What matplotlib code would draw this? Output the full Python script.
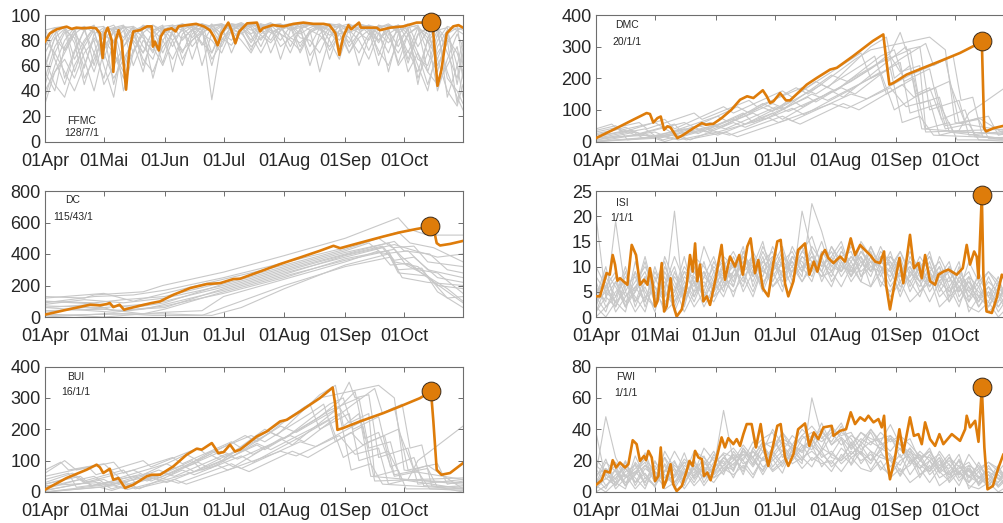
import matplotlib
matplotlib.use("Agg")
import matplotlib.pyplot as plt

plt.rcParams['font.family'] = ['Liberation Sans', 'DejaVu Sans']

# ---------------- axis ticks ----------------
MONTH_DAYS = [0, 30, 61, 91, 122, 153, 183]
MONTH_LABELS = ['01Apr', '01Mai', '01Jun', '01Jul', '01Aug', '01Sep', '01Oct']

# 5-day grid used by the noisy grey ensembles (days after 01Apr)
GRID5 = [0, 5, 10, 15, 20, 25, 30, 35, 40, 45, 50, 55, 60, 65, 70, 75, 80, 85, 90, 95,
         100, 105, 110, 115, 120, 125, 130, 135, 140, 145, 150, 155, 160, 165, 170, 175,
         180, 185, 190, 195, 200, 205, 210, 213]

# ---------------- FFMC ----------------
FFMC_DAYS = [0, 2.5, 6, 11, 13.6, 16, 19.5, 23, 26, 28, 29.4, 30.6, 32, 34, 34.8, 36, 37.5, 39, 41.3,
             43, 45, 48.4, 52, 54.4, 55, 56, 58, 59, 61, 64.5, 66.6, 68, 72, 77, 81, 84, 86, 88, 90,
             93.4, 95, 97, 99, 103, 108, 109.6, 111, 116, 121.5, 126.6, 131.7, 136.8, 142, 145, 148,
             150, 152, 154.6, 156, 160, 161, 169, 170.7, 176, 182.6, 189.4, 196.6, 197.6, 200, 202,
             204.7, 208, 210.7, 213]
FFMC_VALS = [79, 85.5, 88.7, 90.8, 89, 90, 89.5, 90, 89.5, 85.5, 66, 85.5, 90, 80, 55, 80, 88, 80, 41,
             72, 87, 88, 91, 91, 75, 79, 72, 83, 88, 89.5, 87, 91, 92, 93, 91, 88, 83, 76, 85.5,
             94, 88, 77.6, 87, 93.4, 94, 87, 89.5, 92, 91, 93, 94, 93, 93, 92, 85.5,
             68.4, 83, 92, 88.7, 94, 90, 90, 88, 90, 91, 94, 94, 91, 44, 56.6,
             85.5, 91, 92, 90]
FFMC_EVENT = (196.6, 94.5)
FFMC_GREY = [
    [88, 90, 72, 85, 91, 60, 88, 90, 92, 78, 55, 86, 91, 92, 80, 89, 93, 70, 90, 92, 93, 85, 91, 94, 88, 92, 93, 75, 90, 93, 92, 86, 90, 92, 68, 89, 92, 85, 90, 55, 80, 91, 88, 90],
    [60, 82, 89, 55, 78, 90, 86, 45, 75, 88, 91, 84, 62, 87, 92, 90, 76, 91, 93, 88, 92, 80, 93, 91, 65, 88, 93, 92, 90, 84, 91, 93, 89, 72, 90, 92, 86, 62, 84, 90, 60, 78, 88, 85],
    [45, 70, 86, 90, 65, 40, 72, 88, 90, 70, 86, 92, 88, 75, 90, 92, 85, 93, 80, 91, 94, 90, 75, 92, 93, 89, 91, 60, 85, 92, 90, 78, 92, 88, 90, 55, 85, 92, 90, 82, 40, 65, 85, 75],
    [75, 88, 50, 72, 88, 91, 80, 90, 60, 85, 92, 89, 70, 88, 93, 91, 88, 60, 89, 92, 90, 93, 88, 80, 92, 93, 85, 90, 93, 65, 88, 91, 93, 85, 91, 88, 75, 90, 50, 70, 88, 90, 45, 70],
    [35, 60, 80, 90, 88, 70, 50, 80, 91, 89, 75, 65, 88, 92, 90, 82, 91, 88, 92, 70, 88, 93, 90, 92, 85, 70, 89, 93, 91, 88, 80, 91, 92, 88, 60, 85, 90, 93, 75, 88, 92, 35, 60, 80],
    [82, 90, 91, 78, 45, 70, 89, 92, 82, 91, 86, 50, 80, 91, 93, 88, 90, 92, 85, 93, 91, 78, 90, 93, 91, 92, 75, 88, 92, 93, 90, 70, 86, 92, 90, 93, 88, 70, 90, 85, 65, 88, 92, 60],
    [55, 40, 75, 88, 91, 86, 65, 89, 91, 85, 70, 88, 92, 55, 85, 91, 93, 90, 75, 92, 88, 93, 91, 86, 90, 92, 93, 88, 55, 82, 92, 90, 86, 91, 80, 92, 90, 65, 85, 90, 88, 50, 40, 30],
    [70, 85, 91, 65, 80, 90, 91, 70, 55, 82, 91, 88, 90, 85, 70, 88, 93, 91, 92, 88, 93, 90, 80, 92, 93, 88, 90, 92, 91, 80, 65, 90, 93, 91, 88, 90, 62, 85, 91, 70, 55, 85, 90, 88],
    [90, 65, 45, 70, 88, 92, 75, 86, 90, 91, 60, 82, 90, 88, 91, 65, 88, 92, 93, 90, 85, 91, 93, 70, 88, 92, 91, 93, 88, 92, 85, 88, 93, 90, 78, 91, 88, 90, 92, 78, 90, 70, 50, 75],
    [50, 75, 88, 82, 58, 85, 90, 88, 40, 70, 89, 92, 85, 91, 88, 92, 60, 86, 91, 93, 92, 88, 91, 93, 92, 75, 89, 92, 90, 91, 93, 88, 60, 82, 92, 90, 92, 80, 60, 40, 75, 88, 60, 35],
    [30, 55, 70, 85, 75, 88, 60, 35, 80, 90, 82, 70, 90, 80, 60, 85, 91, 33, 80, 91, 88, 72, 92, 88, 80, 91, 70, 86, 92, 88, 75, 92, 88, 91, 85, 70, 92, 88, 45, 82, 90, 80, 30, 55],
    [40, 55, 65, 50, 70, 80, 45, 60, 75, 85, 65, 55, 75, 85, 72, 80, 88, 65, 78, 88, 80, 70, 85, 90, 75, 82, 88, 68, 80, 90, 85, 70, 82, 88, 72, 60, 80, 88, 70, 55, 45, 60, 75, 50],
    [65, 45, 35, 60, 75, 55, 80, 70, 50, 72, 85, 75, 60, 80, 88, 75, 85, 80, 70, 88, 86, 75, 82, 88, 85, 80, 72, 88, 84, 75, 88, 82, 70, 85, 80, 88, 60, 72, 55, 80, 65, 40, 28, 45],
    [80, 70, 55, 40, 60, 82, 70, 50, 65, 80, 70, 88, 80, 65, 82, 88, 78, 70, 86, 80, 90, 84, 70, 85, 90, 82, 78, 86, 90, 72, 85, 88, 80, 65, 86, 78, 88, 55, 70, 45, 70, 82, 70, 55],
    [58, 82, 72, 88, 50, 65, 85, 78, 88, 60, 80, 72, 85, 90, 65, 80, 86, 90, 82, 76, 88, 92, 84, 78, 88, 92, 82, 80, 70, 88, 92, 75, 86, 80, 92, 82, 70, 85, 65, 60, 85, 55, 35, 25],
]

# ---------------- DMC ----------------
DMC_DAYS = [0, 12.2, 19, 25.8, 27.5, 29.2, 31.3, 33, 34.7, 36.4, 38, 41.5, 44.5, 49.6, 53.9, 56, 59.8, 64,
            69, 73.4, 77, 80.2, 85, 87, 88.7, 90.4, 93.8, 96.8, 98.9, 107.4, 112.5, 119.3, 122.7, 131,
            141, 146.4, 148, 149.5, 151.5, 158.3, 166.8, 175.3, 185.5, 192.3, 196.6, 197.8, 198.8,
            202.5, 208, 213]
DMC_VALS = [10.6, 47.6, 69, 90, 87, 60, 74, 79, 37, 48, 44, 10.6, 21, 42, 58, 53, 56, 74,
            100.5, 132, 143, 137.5, 162, 143, 122, 127, 153, 130, 130, 180, 201, 227.5, 233, 270,
            317.5, 338.6, 254, 180, 185, 211.6, 233, 254, 280, 301.5, 317.5, 42, 32,
            42, 50, 55]
DMC_EVENT = (196.6, 318)
DMC_GREY_DAYS = [
    [0, 20, 28, 50, 56, 80, 86, 110, 118, 140, 150, 156, 165, 172, 213],
    [0, 15, 22, 40, 45, 70, 76, 100, 105, 130, 145, 160, 165, 175, 180, 213],
    [0, 30, 35, 55, 62, 90, 95, 120, 126, 150, 158, 163, 170, 178, 190, 195, 213],
    [0, 10, 14, 35, 40, 65, 70, 95, 100, 125, 135, 140, 155, 160, 175, 182, 213],
    [0, 25, 32, 60, 66, 92, 98, 125, 132, 155, 168, 172, 178, 185, 200, 205, 213],
    [0, 18, 24, 45, 52, 75, 80, 108, 112, 140, 150, 155, 158, 165, 170, 185, 190, 213],
    [0, 12, 16, 40, 48, 70, 76, 100, 106, 130, 145, 152, 165, 173, 178, 195, 200, 213],
    [0, 30, 36, 58, 64, 85, 92, 115, 122, 145, 152, 157, 170, 176, 188, 193, 213],
    [0, 22, 26, 50, 54, 78, 82, 105, 112, 135, 142, 148, 162, 168, 213],
    [0, 35, 42, 62, 68, 95, 100, 130, 138, 160, 175, 182, 186, 192, 197, 213],
    [0, 28, 34, 56, 62, 88, 93, 120, 128, 150, 158, 170, 175, 185, 190, 213],
    [0, 8, 12, 30, 38, 62, 68, 90, 96, 120, 128, 150, 155, 165, 168, 180, 184, 213],
    [0, 25, 30, 52, 58, 84, 90, 112, 118, 140, 148, 152, 160, 166, 213],
    [0, 15, 20, 45, 50, 72, 78, 102, 108, 132, 140, 170, 178, 183, 213],
    [0, 40, 46, 66, 72, 98, 104, 126, 134, 156, 162, 180, 188, 195, 213],
]
DMC_GREY_VALS = [
    [5, 30, 15, 45, 30, 90, 70, 150, 130, 200, 230, 60, 80, 20, 10],
    [20, 45, 25, 55, 20, 70, 55, 130, 110, 190, 250, 290, 120, 140, 30, 5],
    [0, 10, 0, 35, 20, 90, 70, 160, 140, 260, 300, 150, 170, 40, 55, 5, 0],
    [35, 50, 30, 70, 40, 110, 90, 160, 140, 240, 280, 200, 250, 90, 120, 30, 25],
    [10, 40, 10, 50, 40, 110, 95, 170, 150, 260, 310, 240, 260, 60, 80, 20, 30],
    [15, 35, 10, 40, 25, 90, 60, 140, 125, 230, 280, 345, 290, 300, 100, 130, 20, 35],
    [25, 40, 5, 25, 5, 60, 45, 105, 85, 165, 220, 100, 150, 170, 50, 70, 10, 15],
    [5, 30, 15, 60, 45, 120, 100, 180, 160, 270, 290, 190, 230, 70, 100, 15, 10],
    [30, 60, 40, 90, 70, 130, 110, 170, 150, 240, 270, 150, 200, 30, 40],
    [0, 15, 5, 30, 20, 80, 65, 150, 135, 210, 250, 270, 130, 140, 15, 0],
    [12, 20, 5, 40, 30, 75, 60, 120, 105, 170, 110, 130, 20, 35, 90, 190],
    [40, 55, 35, 60, 30, 80, 60, 120, 105, 210, 190, 270, 220, 240, 40, 60, 5, 5],
    [0, 25, 10, 50, 40, 110, 95, 190, 170, 300, 330, 200, 240, 40, 20],
    [15, 35, 20, 60, 45, 110, 90, 170, 150, 260, 290, 330, 290, 60, 30],
    [0, 20, 5, 30, 15, 70, 55, 120, 100, 180, 140, 190, 60, 75, 5],
]

# ---------------- DC ----------------
DC_DAYS = [0, 11, 23, 28, 31.4, 33, 34.8, 38, 40.3, 41.6, 48.4, 54.4, 58.6, 65.4, 74, 82.4, 89.2, 96,
           99.4, 109.6, 119.8, 130, 140, 147, 150.4, 155.4, 164, 172.4, 181, 189.4, 196.2, 198,
           199.6, 201.3, 206.4, 213]
DC_VALS = [15, 46, 78, 74, 82, 89, 63, 78, 46, 51, 72, 89, 99, 141, 184, 209, 215, 241,
           243, 289, 336, 378, 420, 452, 437, 454, 483, 511, 538, 559, 574, 564,
           469, 454, 464, 483]
DC_EVENT = (196.3, 577)
DC_GREY_DAYS = [
    [0, 20, 25, 50, 60, 91, 122, 153, 180, 185, 195, 213],
    [0, 30, 45, 61, 91, 122, 153, 175, 182, 190, 200, 213],
    [0, 25, 35, 61, 91, 122, 153, 172, 178, 190, 200, 213],
    [0, 30, 61, 80, 91, 122, 153, 170, 176, 185, 195, 213],
    [0, 20, 40, 61, 91, 122, 153, 178, 183, 196, 205, 213],
    [0, 30, 45, 61, 91, 122, 153, 170, 177, 188, 195, 213],
    [0, 30, 50, 61, 91, 122, 153, 175, 180, 192, 200, 213],
    [0, 40, 55, 80, 91, 122, 153, 176, 182, 195, 213],
    [0, 25, 40, 61, 91, 122, 153, 165, 172, 185, 195, 213],
    [0, 35, 50, 61, 91, 122, 153, 178, 186, 200, 213],
    [0, 30, 61, 85, 100, 122, 153, 175, 180, 195, 205, 213],
    [0, 25, 45, 61, 91, 122, 153, 180, 186, 198, 213],
    [0, 30, 50, 61, 91, 122, 153, 172, 178, 188, 200, 213],
    [0, 20, 40, 61, 91, 122, 153, 178, 184, 192, 205, 213],
]
DC_GREY_VALS = [
    [130, 120, 140, 160, 200, 285, 390, 500, 630, 560, 520, 520],
    [100, 80, 60, 90, 210, 310, 410, 470, 380, 300, 280, 150],
    [60, 80, 40, 60, 180, 280, 380, 440, 350, 320, 200, 180],
    [20, 0, 30, 40, 130, 240, 350, 420, 330, 340, 250, 90],
    [80, 110, 90, 120, 200, 300, 400, 480, 420, 400, 300, 280],
    [120, 150, 100, 150, 240, 330, 430, 500, 440, 450, 350, 320],
    [40, 50, 20, 50, 160, 260, 360, 420, 300, 310, 160, 60],
    [10, 20, 10, 10, 60, 200, 320, 380, 250, 220, 200],
    [100, 90, 110, 130, 220, 320, 420, 470, 400, 420, 300, 250],
    [60, 30, 50, 80, 170, 270, 390, 460, 430, 380, 400],
    [0, 20, 20, 10, 60, 180, 330, 400, 280, 260, 120, 130],
    [90, 130, 140, 170, 250, 345, 440, 540, 470, 440, 350],
    [70, 60, 80, 100, 190, 290, 395, 450, 360, 380, 250, 220],
    [30, 60, 40, 70, 150, 250, 370, 430, 330, 280, 180, 100],
]

# ---------------- ISI ----------------
ISI_DAYS = [0, 2, 3.7, 5.4, 7, 8.5, 9.7, 10.9, 12.2, 13.9, 16, 18.2, 20.4, 22.4, 24.5, 26.2, 27.5, 28.9,
            30.1, 31.3, 33.5, 34.7, 36, 38, 39.4, 41.1, 43.7, 46.2, 47.9, 49.3, 50.5, 51.6, 53, 54.7,
            56.4, 58.1, 60.7, 64, 65.7, 68.3, 70.8, 73, 74.8, 77.1, 78.8, 81, 82.7, 85, 87.8, 90.5,
            92.4, 94.1, 96.3, 98, 100.6, 103, 106.5, 108.7, 111, 112.8, 115, 116.7, 118.4, 121,
            124.4, 126.9, 129.8, 132, 134.6, 137, 139.7, 142.2, 144.7, 146.8, 147.8, 149.8, 152.4,
            154.6, 156.6, 160, 162, 164.3, 166, 167.7, 170.2, 172.8, 174.5, 177, 179.6, 183.8,
            186.9, 188.9, 190.6, 192.7, 194, 194.9, 196.6, 197.4, 199, 201.7, 204.2, 206.8, 208, 213]
ISI_VALS = [4.1, 4.1, 6.4, 8.7, 8.4, 12.3, 10.4, 7.2, 7.7, 7.1, 6.4, 14.3, 12.3, 6.4, 7.4, 6.4, 9.7, 6.4,
            2.1, 3.1, 10.7, 1.1, 2.1, 7.7, 2.4, 0.1, 1.5, 6.4, 12.3, 9, 14.6, 7.1, 10.4, 3.1,
            4.1, 2.4, 7.1, 14.3, 7.4, 12, 10, 12.3, 8.4, 14, 15.6, 8.7, 11.3, 5.7, 4.1, 11,
            15, 15.3, 6.7, 4.1, 7.1, 13.3, 14.6, 8.4, 11, 9, 12.3, 13.3, 11.7, 10.7,
            12, 11, 15.6, 12.3, 14.3, 13.3, 12.3, 11, 10.7, 13, 6.4, 1.5, 7.1,
            11.7, 6.7, 16.3, 9.7, 10.7, 7.7, 12.3, 7.1, 6.4, 8.4, 9, 9.4, 8.4,
            9.7, 14.3, 10.4, 13, 12, 7.7, 24.3, 8.4, 1.1, 0.8, 3.8, 8.4, 7.7, 6]
ISI_EVENT = (196.6, 24.3)
ISI_GREY = [
    [2, 8, 4, 10, 3, 6, 1, 9, 5, 12, 4, 8, 6, 11, 7, 13, 9, 6, 12, 8, 14, 10, 7, 13, 11, 9, 15, 8, 12, 6, 10, 4, 9, 7, 11, 5, 8, 3, 6, 2, 5, 1, 4, 3],
    [6, 3, 19, 5, 9, 2, 7, 11, 3, 8, 6, 14, 9, 5, 12, 8, 10, 15, 7, 11, 9, 13, 16, 10, 12, 8, 11, 14, 9, 12, 7, 11, 5, 9, 13, 6, 3, 8, 4, 7, 2, 6, 3, 1],
    [1, 4, 2, 6, 8, 3, 10, 4, 21, 2, 9, 5, 11, 7, 9, 14, 6, 11, 9, 13, 7, 12, 10, 15, 9, 13, 11, 7, 14, 10, 8, 12, 6, 10, 5, 8, 11, 4, 7, 5, 3, 7, 2, 5],
    [4, 1, 7, 3, 5, 12, 4, 8, 1, 6, 10, 3, 8, 12, 10, 6, 13, 9, 11, 7, 12, 9, 14, 11, 8, 13, 10, 12, 6, 11, 9, 5, 12, 8, 6, 9, 4, 10, 5, 3, 8, 4, 6, 2],
    [8, 5, 3, 9, 2, 7, 5, 2, 9, 4, 7, 9, 5, 10, 13, 9, 11, 8, 14, 10, 6, 21, 13, 9, 14, 11, 7, 10, 13, 8, 12, 10, 7, 4, 9, 11, 6, 2, 8, 6, 1, 3, 8, 5],
    [3, 9, 6, 2, 11, 4, 2, 6, 12, 7, 3, 8, 12, 6, 8, 11, 7, 12, 6, 9, 11, 8, 22.5, 17, 10, 9, 12, 9, 11, 7, 5, 9, 11, 7, 3, 7, 9, 6, 3, 9, 4, 8, 2, 4],
    [0, 2, 5, 7, 4, 1, 8, 3, 5, 10, 7, 2, 6, 9, 4, 10, 12, 7, 9, 12, 10, 14, 9, 12, 7, 10, 14, 11, 8, 13, 11, 6, 8, 12, 9, 4, 6, 9, 1, 4, 6, 2, 5, 7],
    [5, 7, 1, 4, 6, 9, 3, 12, 7, 3, 8, 6, 10, 8, 11, 5, 9, 11, 13, 6, 9, 13, 11, 8, 12, 15, 9, 13, 10, 9, 13, 7, 10, 5, 7, 10, 5, 7, 9, 4, 7, 5, 1, 3],
    [2, 0, 3, 5, 1, 4, 6, 1, 3, 6, 2, 5, 3, 7, 5, 8, 4, 10, 6, 8, 11, 7, 10, 8, 9, 6, 10, 7, 6, 9, 4, 7, 3, 5, 8, 2, 4, 6, 2, 1, 3, 0, 2, 1],
    [10, 6, 9, 4, 7, 10, 6, 4, 8, 5, 12, 10, 7, 4, 9, 12, 10, 5, 10, 14, 8, 10, 12, 9, 6, 11, 8, 15, 12, 10, 9, 13, 8, 11, 6, 12, 8, 5, 11, 7, 9, 6, 10, 4],
    [20, 4, 7, 2, 5, 8, 3, 7, 4, 9, 5, 11, 4, 8, 6, 12, 8, 13, 9, 5, 12, 9, 13, 7, 11, 14, 8, 12, 9, 14, 10, 8, 13, 9, 12, 7, 10, 7, 5, 8, 4, 2, 5, 3],
    [3, 5, 8, 2, 6, 3, 9, 5, 2, 7, 4, 9, 5, 8, 10, 7, 12, 9, 8, 11, 13, 9, 12, 10, 13, 9, 12, 10, 14, 9, 11, 8, 10, 7, 9, 6, 10, 5, 7, 3, 6, 4, 1, 3],
    [7, 2, 4, 8, 5, 11, 3, 6, 10, 3, 7, 4, 9, 11, 6, 13, 8, 14, 10, 9, 12, 11, 8, 13, 10, 12, 8, 11, 9, 12, 10, 13, 9, 6, 10, 7, 5, 9, 6, 4, 2, 5, 3, 6],
    [1, 6, 3, 1, 9, 5, 2, 10, 6, 1, 5, 7, 4, 6, 11, 9, 5, 10, 12, 8, 10, 7, 11, 9, 14, 10, 9, 13, 11, 10, 6, 9, 11, 9, 7, 10, 3, 6, 8, 2, 5, 3, 7, 2],
    [4, 10, 2, 7, 3, 8, 6, 3, 5, 9, 8, 4, 7, 10, 8, 11, 10, 6, 11, 10, 9, 12, 10, 11, 9, 12, 13, 8, 10, 11, 12, 9, 7, 10, 12, 8, 7, 11, 3, 6, 9, 7, 4, 8],
]

# ---------------- BUI ----------------
BUI_DAYS = [0, 11, 21.2, 26.3, 28, 29.7, 33, 34.8, 37.4, 40.8, 45, 51.8, 54.4, 58.6, 65.4, 72.2, 77.3,
            79.9, 85, 86.7, 88.3, 91, 94.3, 96.8, 99.4, 107.9, 113, 119.8, 123.2, 130, 140, 146.6,
            147.8, 149, 152, 160.5, 172.4, 181, 191, 196.7, 197.9, 199.6, 202, 206.4, 213]
BUI_VALS = [7.4, 44.6, 71, 87, 78.5, 60.5, 74, 39, 44.6, 12.7, 23, 50, 55, 55, 81.7, 119, 138,
            135, 156, 140, 124, 127, 151, 129, 135, 177, 193, 225, 230, 257, 299, 333,
            283, 198, 204, 225, 251.5, 273, 299, 320, 225, 71, 55, 60.5, 92]
BUI_EVENT = (196.7, 322)
BUI_GREY_DAYS = [
    [0, 18, 24, 48, 54, 78, 84, 108, 115, 140, 150, 156, 166, 172, 213],
    [0, 14, 20, 40, 46, 70, 76, 100, 106, 130, 145, 160, 165, 176, 181, 213],
    [0, 28, 34, 55, 62, 90, 96, 120, 126, 150, 158, 163, 170, 178, 190, 196, 213],
    [0, 10, 16, 35, 40, 65, 70, 95, 100, 125, 135, 140, 155, 160, 175, 182, 213],
    [0, 25, 32, 60, 66, 92, 98, 125, 132, 155, 168, 172, 178, 185, 200, 205, 213],
    [0, 18, 24, 45, 52, 75, 80, 108, 112, 140, 150, 155, 158, 165, 170, 185, 190, 213],
    [0, 12, 16, 40, 48, 70, 76, 100, 106, 130, 145, 152, 165, 173, 178, 195, 200, 213],
    [0, 30, 36, 58, 64, 85, 92, 115, 122, 145, 152, 157, 170, 176, 188, 193, 213],
    [0, 22, 26, 50, 54, 78, 82, 105, 112, 135, 142, 148, 162, 168, 213],
    [0, 35, 42, 62, 68, 95, 100, 130, 138, 160, 175, 182, 186, 192, 197, 213],
    [0, 28, 34, 56, 62, 88, 93, 120, 128, 150, 158, 170, 175, 185, 190, 213],
    [0, 8, 12, 30, 38, 62, 68, 90, 96, 120, 128, 150, 155, 165, 168, 180, 184, 213],
    [0, 25, 30, 52, 58, 84, 90, 112, 118, 140, 148, 152, 160, 166, 213],
    [0, 15, 20, 45, 50, 72, 78, 102, 108, 132, 140, 170, 178, 183, 213],
    [0, 40, 46, 66, 72, 98, 104, 126, 134, 156, 162, 180, 188, 195, 213],
]
BUI_GREY_VALS = [
    [10, 40, 20, 55, 35, 95, 75, 155, 135, 215, 250, 70, 90, 25, 10],
    [30, 60, 35, 70, 30, 85, 65, 140, 120, 200, 260, 300, 140, 160, 40, 10],
    [0, 15, 5, 45, 30, 100, 80, 170, 150, 270, 320, 170, 190, 50, 65, 10, 5],
    [60, 100, 70, 95, 60, 110, 90, 160, 140, 240, 280, 200, 250, 100, 130, 40, 30],
    [15, 50, 20, 60, 50, 120, 105, 180, 160, 270, 330, 250, 270, 70, 90, 25, 35],
    [25, 50, 20, 50, 35, 100, 70, 150, 135, 240, 290, 350, 300, 310, 110, 140, 25, 40],
    [40, 60, 15, 35, 10, 70, 55, 115, 95, 175, 230, 110, 160, 180, 55, 75, 15, 20],
    [5, 40, 20, 70, 55, 130, 110, 190, 170, 280, 300, 200, 240, 80, 110, 20, 15],
    [50, 80, 55, 100, 80, 140, 120, 180, 160, 250, 280, 160, 210, 35, 45],
    [0, 20, 8, 40, 28, 90, 75, 160, 145, 220, 260, 280, 140, 150, 20, 0],
    [20, 30, 10, 50, 40, 85, 70, 130, 115, 180, 120, 140, 25, 40, 100, 210],
    [70, 95, 70, 90, 45, 90, 70, 130, 115, 210, 190, 270, 220, 250, 50, 70, 10, 10],
    [5, 35, 15, 60, 45, 120, 100, 200, 180, 310, 340, 210, 250, 50, 25],
    [25, 50, 30, 70, 55, 120, 100, 180, 160, 270, 300, 340, 300, 70, 40],
    [0, 30, 10, 40, 25, 80, 65, 130, 110, 190, 150, 200, 70, 85, 10],
]

# ---------------- FWI ----------------
FWI_DAYS = [0, 2.9, 4.6, 7.1, 8.5, 10.2, 12.2, 14.8, 16.5, 18.7, 20.7, 22.4, 24.5, 25.5, 26.7, 28.4,
            30.1, 31.8, 33, 34.3, 35.7, 38, 39.4, 41.1, 43.7, 46.2, 47.6, 49.3, 50.5, 52.2, 53.9, 55,
            56.7, 58.4, 61.5, 64, 65.7, 67.4, 70, 71.7, 73.4, 75.1, 76.8, 79.3, 81.5, 83.9, 85.6,
            87.8, 90, 92.4, 94.1, 96.3, 98, 100.6, 103, 106.5, 108.7, 111, 113.3, 115.9, 120.1, 121,
            124.4, 127.4, 129.8, 132, 134.6, 137, 138.8, 141.4, 143.9, 145.6, 146.8, 148.1, 149.8,
            152.4, 154.6, 156.6, 160, 162, 164.3, 166, 167.7, 170.2, 172.8, 175, 177, 181.3, 185.5,
            188.1, 188.9, 190.6, 193.2, 194.9, 196.6, 197.9, 199.5, 202.2, 205.1, 207.6, 213]
FWI_VALS = [4.5, 7.5, 13.4, 12.4, 20.3, 15.6, 18.8, 15.6, 17.7, 33, 30.5, 19.8, 23, 20.3, 26.2, 22,
            7, 10.2, 28.4, 2.8, 7, 17.7, 4.9, 0.6, 3.8, 13.4, 19.8, 16.6, 26.2, 22, 21, 10.2,
            12.4, 7.5, 22, 34.8, 28.4, 34.3, 30.5, 33.7, 29.4, 36.9, 43.3, 43.3, 28.4, 43.3, 28.4,
            16.6, 28.4, 42.2, 43.3, 22, 16.6, 24.1, 40, 43.7, 29.4, 38, 33.7, 41.2, 42.2, 35.8,
            39, 40, 50.8, 43.3, 47.6, 45.4, 48.6, 44.4, 46.5, 41.2, 48.6, 23, 8.1,
            22, 40, 25.2, 47.6, 35.8, 36.9, 30.5, 44.4, 33.7, 29.4, 36.9, 30.5, 36.9, 32.6,
            40, 48.6, 41.2, 45.4, 32, 66.8, 28.4, 1.7, 3.8, 15.6, 24.1, 25]
FWI_EVENT = (196.6, 67)
FWI_GREY = [
    [5, 15, 8, 20, 6, 12, 3, 18, 10, 25, 8, 16, 12, 22, 15, 28, 20, 14, 26, 18, 30, 22, 16, 28, 24, 20, 32, 18, 26, 14, 22, 10, 20, 15, 24, 12, 18, 7, 14, 5, 11, 3, 9, 6],
    [12, 48, 22, 10, 18, 4, 14, 22, 6, 17, 12, 28, 20, 11, 26, 18, 22, 32, 16, 24, 20, 28, 34, 22, 26, 18, 24, 30, 20, 26, 16, 24, 11, 20, 28, 13, 7, 17, 9, 15, 4, 13, 6, 2],
    [2, 9, 4, 13, 17, 6, 20, 9, 15, 4, 19, 11, 24, 15, 20, 30, 22, 32, 28, 38, 26, 36, 30, 44, 30, 38, 34, 24, 40, 32, 26, 34, 20, 22, 11, 17, 24, 9, 15, 10, 6, 15, 4, 10],
    [9, 2, 15, 6, 11, 25, 9, 17, 2, 13, 21, 6, 17, 25, 22, 13, 28, 20, 24, 16, 26, 20, 30, 24, 18, 28, 22, 26, 14, 24, 20, 11, 26, 17, 13, 20, 9, 21, 10, 6, 17, 8, 13, 4],
    [17, 11, 6, 19, 4, 15, 10, 4, 19, 9, 15, 20, 11, 22, 28, 20, 32, 26, 40, 30, 22, 34, 38, 28, 42, 34, 24, 30, 38, 26, 34, 30, 22, 9, 20, 24, 13, 4, 17, 13, 2, 6, 17, 10],
    [6, 19, 13, 4, 23, 9, 4, 13, 26, 15, 6, 17, 26, 13, 18, 24, 16, 26, 14, 20, 24, 18, 60, 36, 22, 20, 26, 20, 24, 16, 11, 20, 24, 15, 6, 15, 20, 13, 6, 19, 8, 17, 4, 8],
    [0, 4, 11, 15, 9, 2, 17, 6, 11, 21, 15, 4, 13, 20, 9, 22, 26, 16, 20, 26, 22, 30, 20, 26, 16, 22, 30, 24, 18, 28, 24, 13, 17, 26, 20, 9, 13, 20, 2, 9, 13, 4, 11, 15],
    [11, 15, 2, 9, 13, 19, 6, 26, 15, 6, 17, 13, 22, 18, 24, 11, 28, 34, 38, 22, 30, 40, 34, 26, 36, 44, 30, 38, 32, 28, 36, 22, 28, 11, 15, 22, 11, 15, 19, 9, 15, 11, 2, 6],
    [4, 0, 6, 11, 2, 9, 13, 2, 6, 13, 4, 11, 6, 15, 11, 17, 9, 22, 13, 18, 24, 15, 22, 18, 20, 13, 22, 15, 13, 20, 9, 15, 6, 11, 17, 4, 9, 13, 4, 2, 6, 0, 4, 2],
    [21, 13, 19, 9, 15, 21, 13, 9, 17, 11, 26, 22, 15, 52, 20, 26, 22, 11, 22, 30, 18, 22, 26, 20, 13, 24, 18, 32, 26, 22, 20, 28, 18, 24, 13, 26, 17, 11, 24, 15, 19, 13, 21, 9],
    [38, 8, 14, 4, 11, 17, 7, 14, 9, 19, 10, 23, 9, 17, 14, 26, 18, 30, 21, 12, 28, 20, 30, 16, 24, 34, 17, 26, 20, 32, 22, 17, 28, 20, 26, 15, 22, 16, 10, 17, 8, 4, 11, 7],
    [6, 11, 17, 4, 13, 6, 19, 11, 4, 15, 9, 19, 11, 17, 22, 15, 26, 20, 28, 34, 30, 26, 36, 32, 38, 30, 36, 32, 40, 30, 34, 27, 22, 15, 20, 13, 22, 11, 15, 6, 13, 9, 2, 6],
    [15, 4, 9, 17, 11, 22, 6, 13, 20, 6, 15, 9, 19, 24, 13, 28, 17, 30, 32, 26, 36, 30, 27, 38, 32, 42, 27, 34, 30, 38, 32, 36, 30, 23, 22, 15, 11, 20, 13, 9, 4, 11, 6, 13],
    [2, 13, 6, 2, 19, 11, 4, 22, 13, 2, 11, 15, 9, 13, 24, 20, 11, 22, 26, 38, 30, 25, 34, 40, 30, 35, 28, 38, 34, 32, 43, 30, 34, 20, 15, 22, 6, 13, 17, 4, 11, 6, 15, 4],
    [9, 21, 4, 15, 6, 17, 13, 6, 11, 19, 17, 9, 15, 22, 17, 24, 22, 13, 24, 32, 28, 36, 42, 34, 40, 36, 38, 27, 32, 34, 36, 30, 25, 22, 26, 17, 15, 24, 6, 13, 19, 15, 9, 17],
]

# ---------------- panel labels ----------------
NAMES = ['FFMC', 'DMC', 'DC', 'ISI', 'BUI', 'FWI']
CODES = ['128/7/1', '20/1/1', '115/43/1', '1/1/1', '16/1/1', '1/1/1']
YMAX = [100, 400, 800, 25, 400, 80]
YSTEP = [20, 100, 200, 5, 100, 20]

ORANGE = '#DE7C0A'
GREY = '#C8C8C8'
SPINE = '#6e6e6e'
TEXT = '#262626'

W, H = 1004, 523
fig = plt.figure(figsize=(W / 100, H / 100), dpi=100)

# axes rectangles in pixels: left, top, width, height
LEFT_X, RIGHT_X, AX_W = 45, 596, 418
ROWS = [(15, 126.5), (191, 126), (366.5, 125.5)]


def make_ax(col, row):
    x = LEFT_X if col == 0 else RIGHT_X
    top, h = ROWS[row]
    return fig.add_axes([x / W, 1 - (top + h) / H, AX_W / W, h / H])


panels = [
    ('grid', GRID5, FFMC_GREY, FFMC_DAYS, FFMC_VALS, FFMC_EVENT),
    ('pairs', DMC_GREY_DAYS, DMC_GREY_VALS, DMC_DAYS, DMC_VALS, DMC_EVENT),
    ('pairs', DC_GREY_DAYS, DC_GREY_VALS, DC_DAYS, DC_VALS, DC_EVENT),
    ('grid', GRID5, ISI_GREY, ISI_DAYS, ISI_VALS, ISI_EVENT),
    ('pairs', BUI_GREY_DAYS, BUI_GREY_VALS, BUI_DAYS, BUI_VALS, BUI_EVENT),
    ('grid', GRID5, FWI_GREY, FWI_DAYS, FWI_VALS, FWI_EVENT),
]

# label positions: (x offset px from axes left, y px of first line from axes top, line gap px)
LABEL_POS = [(37, 105.5, 12), (31, 10, 17), (28, 9, 17), (26, 12, 15), (31, 10.5, 15), (30, 11, 15)]

for i, (kind, gx, gy, od, ov, ev) in enumerate(panels):
    row, col = i // 2, i % 2
    ax = make_ax(col, row)
    if kind == 'grid':
        for series in gy:
            ax.plot(gx, series, color=GREY, lw=0.8, zorder=1)
    else:
        for dd, vv in zip(gx, gy):
            ax.plot(dd, vv, color=GREY, lw=0.8, zorder=1)
    ax.plot(od, ov, color=ORANGE, lw=1.9, zorder=3, solid_joinstyle='round')
    ax.plot([ev[0]], [ev[1]], 'o', ms=13.5, mfc=ORANGE, mec='#3a2a1a', mew=0.7,
            zorder=5, clip_on=False)

    ax.set_xlim(0, 213)
    ax.set_ylim(0, YMAX[i])
    ax.set_xticks(MONTH_DAYS)
    ax.set_xticklabels(MONTH_LABELS)
    ax.set_yticks(list(range(0, YMAX[i] + 1, YSTEP[i])))
    ax.tick_params(direction='in', top=True, right=True, length=3.5, width=0.7,
                   color=SPINE, labelsize=13, labelcolor=TEXT)
    ax.tick_params(axis='x', pad=8)
    ax.tick_params(axis='y', pad=3)
    for s in ax.spines.values():
        s.set_color(SPINE)
        s.set_linewidth(0.8)

    xo, yo, gap = LABEL_POS[i]
    top, h = ROWS[row]
    fx = xo / AX_W
    ax.text(fx, 1 - yo / h, NAMES[i], transform=ax.transAxes, ha='center', va='center',
            fontsize=7.5, color=TEXT)
    ax.text(fx, 1 - (yo + gap) / h, CODES[i], transform=ax.transAxes, ha='center',
            va='center', fontsize=7.5, color=TEXT)

fig.savefig('out.png', dpi=100)
